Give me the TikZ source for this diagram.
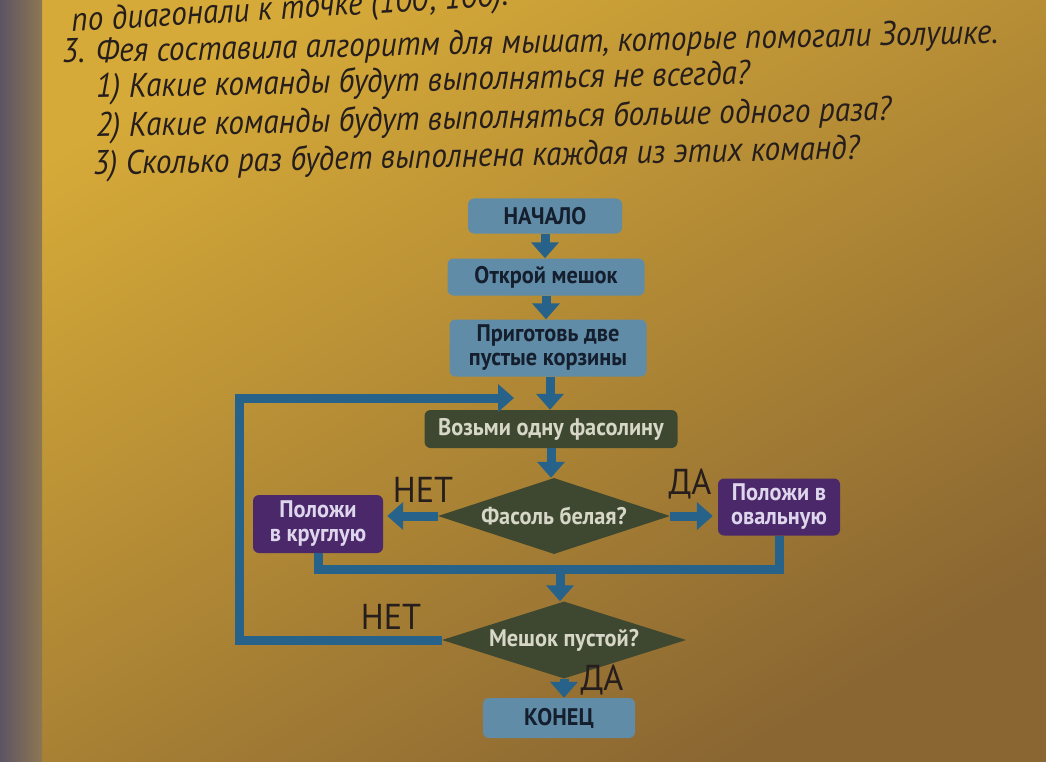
\documentclass[tikz,border=0pt]{standalone}
\usepackage{fontspec}
\setmainfont{PT Sans}
\newfontfamily\qfont[FakeStretch=0.92]{PT Sans}
\newfontfamily\bxfont[FakeStretch=0.93]{PT Sans}
\newfontfamily\lbfont[FakeStretch=0.95]{PT Sans}
\usetikzlibrary{arrows.meta,shapes.geometric}
\definecolor{pageA}{RGB}{214,170,56}
\definecolor{pageB}{RGB}{138,102,50}
\definecolor{stripc}{RGB}{92,84,100}
\definecolor{boxblue}{RGB}{96,140,168}
\definecolor{boxbluetext}{RGB}{20,30,45}
\definecolor{olive}{RGB}{62,72,48}
\definecolor{olivetext}{RGB}{215,215,200}
\definecolor{purp}{RGB}{75,40,105}
\definecolor{purptext}{RGB}{222,214,236}
\definecolor{conn}{RGB}{38,98,138}
\definecolor{ink}{RGB}{38,30,28}
\tikzset{
  qline/.style={anchor=base west, inner sep=0pt, text=ink, font=\qfont\itshape\fontsize{34}{38}\selectfont, rotate=1.2},
  boxtext/.style={font=\bxfont\bfseries\fontsize{24}{24}\selectfont, align=center, inner sep=0pt},
  bluebox/.style={boxtext, draw=none, fill=boxblue, rounded corners=6pt, text=boxbluetext},
  olivebox/.style={boxtext, draw=none, fill=olive, rounded corners=6pt, text=olivetext},
  purpbox/.style={boxtext, draw=none, fill=purp, rounded corners=6pt, text=purptext},
  decision/.style={boxtext, diamond, draw=none, fill=olive, text=olivetext, aspect=3},
  conline/.style={draw=conn, line width=9pt, line join=miter},
  arr/.style={conline, -{Triangle[width=27pt,length=16pt]}},
  yn/.style={text=ink, font=\lbfont\fontsize{36}{38}\selectfont, inner sep=0pt}
}
\begin{document}
\begin{tikzpicture}[x=1pt,y=-1pt]
\useasboundingbox (0,0) rectangle (1046,762);
\clip (0,0) rectangle (1046,762);
% page background
\shade[top color=pageA, bottom color=pageB, shading angle=30] (0,0) rectangle (1046,762);
\shade[left color=stripc, right color=stripc!60!pageA] (0,0) rectangle (42,762);
% question text
\node[qline, rotate=2.3] (q0) at (72,32) {по диагонали к точке (100; 100).};
\node[qline] (q1) at (62,63) {3. Фея составила алгоритм для мышат, которые помогали Золушке.};
\node[qline] (q2) at (96,98) {1) Какие команды будут выполняться не всегда?};
\node[qline] (q3) at (96,137) {2) Какие команды будут выполняться больше одного раза?};
\node[qline] (q4) at (93,175) {3) Сколько раз будет выполнена каждая из этих команд?};
% flowchart nodes
\node[bluebox, minimum width=154pt, minimum height=35pt] (start) at (545,216) {НАЧАЛО};
\node[bluebox, minimum width=197pt, minimum height=37pt] (open) at (546,277) {Открой мешок};
\node[bluebox, minimum width=197pt, minimum height=57pt] (prep) at (548,348) {Приготовь две\\пустые корзины};
\node[olivebox, minimum width=253pt, minimum height=38pt] (take) at (551,429) {Возьми одну фасолину};
\node[decision, minimum width=232pt, minimum height=76pt] (d1) at (554,516) {Фасоль белая?};
\node[purpbox, minimum width=130pt, minimum height=58pt] (left) at (318,524) {Положи\\в круглую};
\node[purpbox, minimum width=122pt, minimum height=57pt] (right) at (779,507) {Положи в\\овальную};
\node[decision, minimum width=244pt, minimum height=77pt] (d2) at (564,640) {Мешок пустой?};
\node[bluebox, minimum width=152pt, minimum height=40pt] (end) at (559,718) {КОНЕЦ};
% labels
\node[yn] (no1) at (423,490) {НЕТ};
\node[yn] (yes1) at (690,484) {ДА};
\node[yn] (no2) at (391,617) {НЕТ};
\node[yn] (yes2) at (602,680) {ДА};
% junction coordinates
\coordinate (mj) at (560,569);
\coordinate (lcorner) at (239,398);
\coordinate (loopin) at (514,398);
% connectors
\draw[arr] (start.south) -- (start.south |- open.north);
\draw[arr] (open.south) -- (open.south |- prep.north);
\draw[arr] ([xshift=2pt]prep.south) -- ([xshift=2pt]prep.south |- take.north);
\draw[arr] (take.south) -- (take.south |- d1.north);
\draw[arr, shorten >=4pt] (d1.west) -- (d1.west -| left.east);
\draw[arr, shorten >=5pt] (d1.east) -- (d1.east -| right.west);
\draw[conline] (left.south) |- (mj) -| (right.south);
\draw[arr] ([yshift=-4.5pt]mj) -- (mj |- d2.north);
\draw[arr] (d2.south) -- (d2.south |- end.north);
\draw[arr] (d2.west) -| (lcorner) -- (loopin);
\end{tikzpicture}
\end{document}
